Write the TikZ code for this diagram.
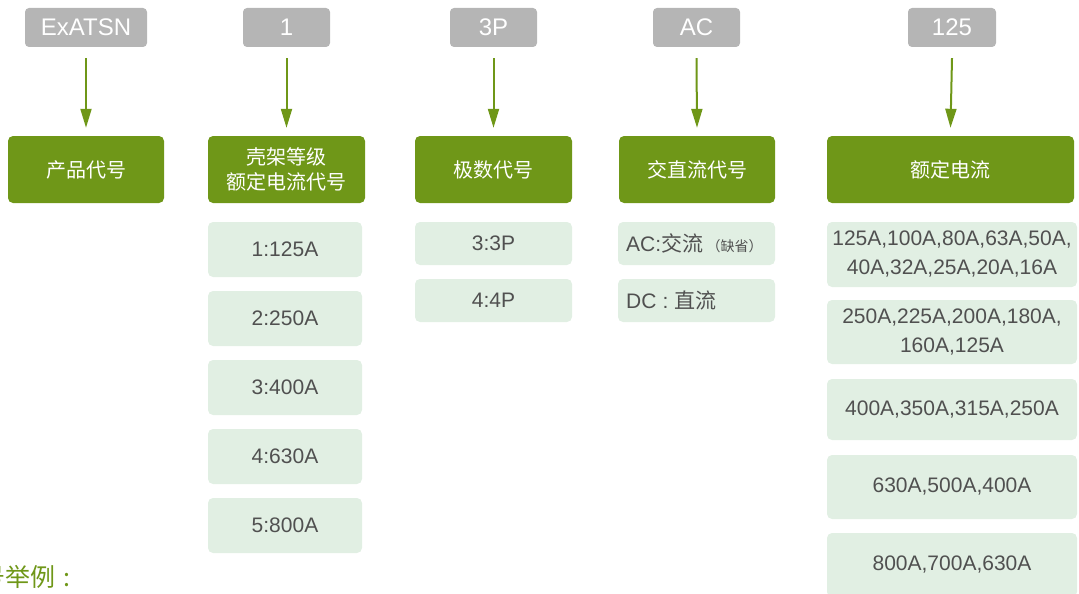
\documentclass[tikz,border=0pt]{standalone}
\usepackage{fontspec}
\setmainfont{Liberation Sans}
\newfontfamily\cjk{Noto Sans CJK SC}
\usetikzlibrary{arrows.meta}
\definecolor{hdgray}{HTML}{B5B5B5}
\definecolor{leaf}{HTML}{6F9718}
\definecolor{pale}{HTML}{E1EFE3}
\definecolor{txt}{HTML}{505050}
\tikzset{
  codebox/.style={fill=hdgray, rounded corners=4pt, inner sep=0pt, text=white,
    font=\fontsize{24}{28}\selectfont},
  catbox/.style={fill=leaf, rounded corners=5pt, inner sep=0pt, text=white,
    font=\cjk\fontsize{20}{25}\selectfont, align=center},
  valbox/.style={fill=pale, rounded corners=5pt, inner sep=0pt, text=txt,
    font=\fontsize{21}{29}\selectfont, align=center},
  arr/.style={draw=leaf, line width=2pt, -{Triangle[length=19pt,width=11pt]}},
}
\begin{document}
\begin{tikzpicture}[x=1pt,y=-1pt]
\useasboundingbox (0,0) rectangle (1079,594);
% top code boxes
\node[codebox, minimum width=122, minimum height=39] (g1) at (86,27.5) {ExATSN};
\node[codebox, minimum width=87, minimum height=39] (g2) at (286.5,27.5) {1};
\node[codebox, minimum width=87, minimum height=39] (g3) at (493.5,27.5) {3P};
\node[codebox, minimum width=87, minimum height=39] (g4) at (696.5,27.5) {AC};
\node[codebox, minimum width=88, minimum height=39] (g5) at (952,27.5) {125};
% category boxes
\node[catbox, minimum width=156, minimum height=67] (p1) at (86,169.5) {产品代号};
\node[catbox, minimum width=157, minimum height=67] (p2) at (286.5,169.5) {壳架等级\\额定电流代号};
\node[catbox, minimum width=157, minimum height=67] (p3) at (493.5,169.5) {极数代号};
\node[catbox, minimum width=156, minimum height=67] (p4) at (697,169.5) {交直流代号};
\node[catbox, minimum width=247, minimum height=67] (p5) at (950.5,169.5) {额定电流};
% arrows
\foreach \i in {1,...,5}{
  \draw[arr] ([yshift=-11]g\i.south) -- ([yshift=8]p\i.north);
}
% column 2 values
\node[valbox, minimum width=154, minimum height=55] (a1) at (285,249.5) {1:125A};
\node[valbox, minimum width=154, minimum height=55] (a2) at (285,318.5) {2:250A};
\node[valbox, minimum width=154, minimum height=55] (a3) at (285,387.5) {3:400A};
\node[valbox, minimum width=154, minimum height=55] (a4) at (285,456.5) {4:630A};
\node[valbox, minimum width=154, minimum height=55] (a5) at (285,525.5) {5:800A};
% column 3 values
\node[valbox, minimum width=157, minimum height=43] (b1) at (493.5,243.5) {3:3P};
\node[valbox, minimum width=157, minimum height=43] (b2) at (493.5,300.5) {4:4P};
% column 4 values
\node[valbox, minimum width=157, minimum height=43] (c1) at (696.5,243.5) {};
\node[anchor=west, text=txt, font=\fontsize{21}{25}\selectfont, inner sep=0pt] (c1t) at (626,243.5)
  {AC:{\cjk 交流}\,{\cjk\fontsize{14}{16}\selectfont （缺省）}};
\node[valbox, minimum width=157, minimum height=43] (c2) at (696.5,300.5) {};
\node[anchor=west, text=txt, font=\fontsize{21}{25}\selectfont, inner sep=0pt] (c2t) at (626,300.5)
  {DC\hspace{6pt}:\hspace{6pt}{\cjk 直流}};
% column 5 values
\node[valbox, minimum width=250, minimum height=65] (d1) at (952,254.5) {125A,100A,80A,63A,50A,\\40A,32A,25A,20A,16A};
\node[valbox, minimum width=250, minimum height=64] (d2) at (952,332) {250A,225A,200A,180A,\\160A,125A};
\node[valbox, minimum width=250, minimum height=61] (d3) at (952,409.5) {400A,350A,315A,250A};
\node[valbox, minimum width=250, minimum height=64] (d4) at (952,487) {630A,500A,400A};
\node[valbox, minimum width=250, minimum height=64] (d5) at (952,565) {800A,700A,630A};
% bottom caption
\node[anchor=base west, inner sep=0pt, text=leaf, font=\cjk\fontsize{25}{28}\selectfont] (cap) at (-45,586) {型号举例\hspace{8pt}:};
\end{tikzpicture}
\end{document}
